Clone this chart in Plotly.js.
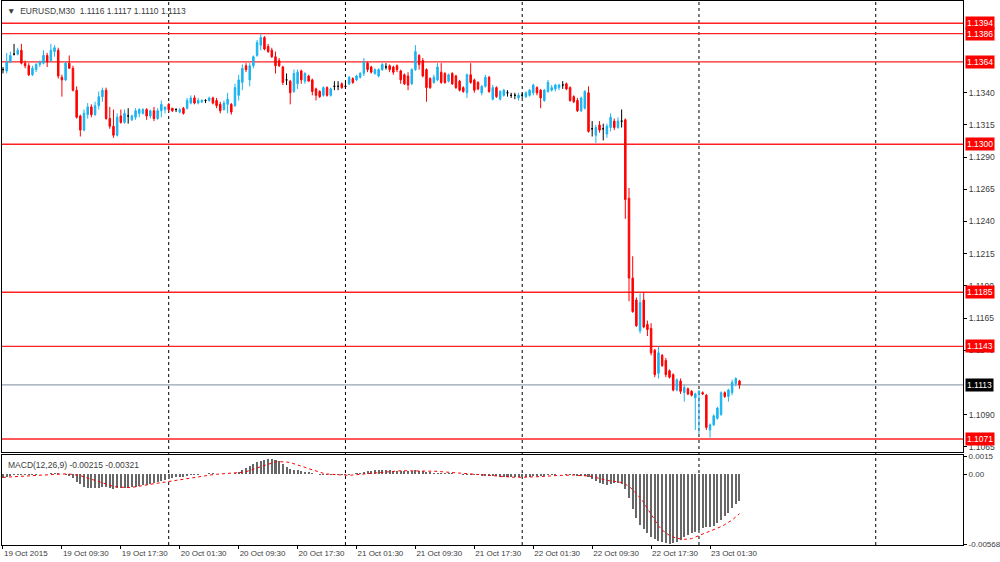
<!DOCTYPE html>
<html><head><meta charset="utf-8">
<script src="https://cdn.plot.ly/plotly-3.0.1.min.js"></script>
<style>html,body{margin:0;padding:0;background:#fff}#chart{width:1000px;height:562px}</style>
</head><body><div id="chart"></div>
<script>
const symbol = 'EURUSD,M30';
const timeLabels = ['19 Oct 2015','19 Oct 09:30','19 Oct 17:30','20 Oct 01:30','20 Oct 09:30','20 Oct 17:30','21 Oct 01:30','21 Oct 09:30','21 Oct 17:30','22 Oct 01:30','22 Oct 09:30','22 Oct 17:30','23 Oct 01:30'];
const labelStep = 16;
const daySeparators = [45, 93, 141, 189, 237];

const open = [1.1358,1.1357,1.1364,1.1370,1.1370,1.1373,1.1363,1.1361,1.1354,1.1358,1.1362,1.1363,1.1369,1.1365,1.1372,1.1373,1.1352,1.1350,1.1363,1.1359,
1.1342,1.1322,1.1311,1.1323,1.1329,1.1323,1.1330,1.1337,1.1342,1.1320,1.1314,1.1307,1.1322,1.1317,1.1322,1.1319,1.1321,1.1324,1.1324,1.1327,
1.1322,1.1326,1.1320,1.1326,1.1327,1.1331,1.1328,1.1327,1.1325,1.1328,1.1328,1.1332,1.1336,1.1332,1.1333,1.1334,1.1334,1.1336,1.1334,1.1331,
1.1327,1.1331,1.1331,1.1330,1.1338,1.1348,1.1361,1.1350,1.1361,1.1369,1.1377,1.1383,1.1376,1.1373,1.1368,1.1365,1.1360,1.1350,1.1349,1.1341,
1.1347,1.1357,1.1349,1.1353,1.1350,1.1343,1.1341,1.1338,1.1344,1.1338,1.1345,1.1345,1.1347,1.1345,1.1347,1.1351,1.1350,1.1352,1.1355,1.1363,
1.1360,1.1355,1.1353,1.1358,1.1360,1.1361,1.1360,1.1361,1.1357,1.1354,1.1353,1.1347,1.1358,1.1369,1.1365,1.1358,1.1351,1.1348,1.1350,1.1356,
1.1355,1.1349,1.1355,1.1353,1.1349,1.1344,1.1340,1.1354,1.1350,1.1348,1.1340,1.1345,1.1352,1.1335,1.1344,1.1335,1.1338,1.1340,1.1338,1.1338,
1.1336,1.1338,1.1337,1.1338,1.1340,1.1344,1.1342,1.1334,1.1341,1.1342,1.1343,1.1344,1.1346,1.1347,1.1344,1.1337,1.1334,1.1326,1.1328,1.1340,
1.1312,1.1307,1.1315,1.1312,1.1308,1.1313,1.1318,1.1313,1.1318,1.1319,1.1258,1.1196,1.1179,1.1155,1.1179,1.1160,1.1157,1.1140,1.1122,1.1136,
1.1132,1.1124,1.1121,1.1109,1.1116,1.1107,1.1110,1.1108,1.1103,1.1106,1.1107,1.1105,1.1078,1.1082,1.1087,1.1090,1.1107,1.1104,1.1107,1.1114,
1.1116];
const high = [1.1360,1.1371,1.1372,1.1378,1.1375,1.1378,1.1365,1.1363,1.1361,1.1363,1.1365,1.1373,1.1371,1.1378,1.1377,1.1375,1.1354,1.1364,1.1369,1.1361,
1.1345,1.1323,1.1327,1.1332,1.1331,1.1333,1.1341,1.1344,1.1344,1.1329,1.1327,1.1324,1.1327,1.1327,1.1328,1.1323,1.1328,1.1328,1.1328,1.1328,
1.1327,1.1329,1.1328,1.1334,1.1329,1.1332,1.1328,1.1328,1.1328,1.1329,1.1336,1.1338,1.1338,1.1336,1.1335,1.1335,1.1337,1.1337,1.1336,1.1333,
1.1334,1.1340,1.1332,1.1347,1.1354,1.1362,1.1363,1.1363,1.1369,1.1381,1.1386,1.1384,1.1378,1.1375,1.1372,1.1367,1.1361,1.1355,1.1350,1.1358,
1.1358,1.1358,1.1356,1.1354,1.1351,1.1344,1.1342,1.1345,1.1345,1.1344,1.1349,1.1349,1.1348,1.1348,1.1353,1.1352,1.1354,1.1356,1.1367,1.1364,
1.1361,1.1359,1.1359,1.1363,1.1363,1.1362,1.1361,1.1362,1.1358,1.1355,1.1356,1.1359,1.1377,1.1370,1.1367,1.1359,1.1352,1.1354,1.1363,1.1363,
1.1356,1.1355,1.1356,1.1354,1.1350,1.1345,1.1355,1.1363,1.1351,1.1349,1.1346,1.1354,1.1353,1.1346,1.1345,1.1342,1.1343,1.1342,1.1340,1.1340,
1.1340,1.1340,1.1341,1.1343,1.1347,1.1345,1.1343,1.1343,1.1350,1.1346,1.1347,1.1347,1.1349,1.1348,1.1345,1.1338,1.1336,1.1337,1.1342,1.1345,
1.1318,1.1315,1.1318,1.1316,1.1316,1.1324,1.1320,1.1321,1.1327,1.1320,1.1266,1.1213,1.1181,1.1184,1.1185,1.1163,1.1161,1.1141,1.1143,1.1137,
1.1134,1.1125,1.1122,1.1118,1.1118,1.1113,1.1111,1.1109,1.1107,1.1109,1.1108,1.1106,1.1083,1.1090,1.1096,1.1108,1.1108,1.1110,1.1117,1.1119,
1.1117];
const low = [1.1355,1.1355,1.1363,1.1369,1.1369,1.1362,1.1359,1.1353,1.1353,1.1356,1.1360,1.1362,1.1360,1.1364,1.1368,1.1351,1.1337,1.1349,1.1359,1.1341,
1.1320,1.1306,1.1310,1.1320,1.1321,1.1322,1.1327,1.1333,1.1319,1.1312,1.1305,1.1306,1.1316,1.1316,1.1316,1.1318,1.1319,1.1321,1.1323,1.1319,
1.1320,1.1318,1.1319,1.1321,1.1324,1.1325,1.1325,1.1325,1.1324,1.1323,1.1327,1.1331,1.1331,1.1331,1.1332,1.1332,1.1333,1.1331,1.1328,1.1324,
1.1326,1.1324,1.1323,1.1329,1.1334,1.1342,1.1356,1.1345,1.1359,1.1368,1.1373,1.1373,1.1371,1.1367,1.1355,1.1360,1.1346,1.1346,1.1331,1.1340,
1.1343,1.1347,1.1347,1.1349,1.1338,1.1334,1.1336,1.1337,1.1337,1.1337,1.1342,1.1342,1.1343,1.1343,1.1346,1.1347,1.1349,1.1351,1.1353,1.1356,
1.1355,1.1354,1.1352,1.1357,1.1358,1.1356,1.1354,1.1356,1.1347,1.1346,1.1342,1.1346,1.1357,1.1358,1.1352,1.1333,1.1343,1.1347,1.1349,1.1347,
1.1347,1.1348,1.1346,1.1343,1.1341,1.1340,1.1336,1.1347,1.1340,1.1342,1.1338,1.1344,1.1340,1.1334,1.1336,1.1334,1.1337,1.1337,1.1336,1.1335,
1.1334,1.1336,1.1336,1.1337,1.1338,1.1338,1.1328,1.1333,1.1340,1.1341,1.1341,1.1342,1.1343,1.1342,1.1333,1.1332,1.1325,1.1325,1.1327,1.1309,
1.1306,1.1301,1.1309,1.1303,1.1305,1.1310,1.1311,1.1312,1.1313,1.1242,1.1178,1.1169,1.1158,1.1153,1.1157,1.1151,1.1136,1.1119,1.1118,1.1127,
1.1119,1.1118,1.1108,1.1108,1.1106,1.1100,1.1105,1.1104,1.1078,1.1075,1.1105,1.1078,1.1072,1.1081,1.1086,1.1089,1.1103,1.1100,1.1105,1.1112,
1.1110];
const close = [1.1358,1.1364,1.1369,1.1370,1.1373,1.1363,1.1361,1.1354,1.1359,1.1362,1.1364,1.1369,1.1364,1.1373,1.1375,1.1353,1.1350,1.1363,1.1359,1.1342,
1.1321,1.1311,1.1324,1.1329,1.1323,1.1330,1.1337,1.1342,1.1320,1.1314,1.1307,1.1321,1.1317,1.1324,1.1322,1.1322,1.1326,1.1327,1.1327,1.1322,
1.1326,1.1320,1.1326,1.1331,1.1329,1.1327,1.1326,1.1327,1.1327,1.1324,1.1334,1.1336,1.1332,1.1334,1.1334,1.1334,1.1336,1.1332,1.1330,1.1326,
1.1332,1.1335,1.1325,1.1344,1.1350,1.1359,1.1358,1.1361,1.1368,1.1379,1.1383,1.1374,1.1372,1.1368,1.1361,1.1361,1.1348,1.1350,1.1340,1.1355,
1.1356,1.1350,1.1355,1.1349,1.1341,1.1338,1.1337,1.1344,1.1338,1.1343,1.1345,1.1345,1.1344,1.1345,1.1352,1.1348,1.1353,1.1355,1.1364,1.1358,
1.1356,1.1358,1.1358,1.1362,1.1360,1.1358,1.1356,1.1358,1.1350,1.1347,1.1346,1.1358,1.1372,1.1362,1.1353,1.1344,1.1344,1.1352,1.1360,1.1348,
1.1348,1.1354,1.1347,1.1344,1.1342,1.1341,1.1354,1.1348,1.1342,1.1343,1.1345,1.1352,1.1341,1.1344,1.1337,1.1341,1.1342,1.1340,1.1338,1.1338,
1.1338,1.1338,1.1340,1.1342,1.1346,1.1340,1.1336,1.1342,1.1348,1.1344,1.1346,1.1346,1.1346,1.1343,1.1334,1.1333,1.1326,1.1336,1.1341,1.1310,
1.1312,1.1313,1.1311,1.1312,1.1314,1.1321,1.1313,1.1318,1.1318,1.1257,1.1196,1.1170,1.1159,1.1177,1.1158,1.1156,1.1138,1.1121,1.1138,1.1128,
1.1121,1.1119,1.1109,1.1117,1.1108,1.1111,1.1106,1.1105,1.1106,1.1108,1.1106,1.1080,1.1082,1.1089,1.1095,1.1107,1.1104,1.1109,1.1115,1.1118,
1.1113];

const macdMain = [-0.00032,-0.00024,-0.00013,-0.00008,-0.00005,-0.00005,-0.00008,-0.00008,-0.00005,-0.00002,0.00001,0.00003,0.00006,0.00009,0.00011,0.00009,0.00003,-0.00002,-0.00013,-0.00029,
-0.00059,-0.00081,-0.00100,-0.00108,-0.00114,-0.00114,-0.00111,-0.00105,-0.00105,-0.00111,-0.00116,-0.00114,-0.00111,-0.00108,-0.00108,-0.00105,-0.00100,-0.00095,-0.00089,-0.00084,
-0.00076,-0.00070,-0.00062,-0.00051,-0.00046,-0.00038,-0.00029,-0.00024,-0.00021,-0.00018,-0.00013,-0.00008,-0.00005,-0.00002,0.00001,0.00006,0.00009,0.00009,0.00006,0.00003,
0.00003,0.00006,0.00006,0.00014,0.00022,0.00036,0.00052,0.00066,0.00082,0.00098,0.00112,0.00120,0.00123,0.00123,0.00117,0.00107,0.00085,0.00058,0.00041,0.00039,
0.00033,0.00028,0.00022,0.00017,0.00009,0.00001,-0.00002,-0.00002,-0.00005,-0.00005,-0.00008,-0.00008,-0.00008,-0.00005,-0.00002,0.00003,0.00009,0.00014,0.00022,0.00028,
0.00030,0.00033,0.00033,0.00033,0.00033,0.00033,0.00030,0.00030,0.00028,0.00028,0.00025,0.00028,0.00033,0.00030,0.00025,0.00020,0.00017,0.00014,0.00014,0.00014,
0.00011,0.00009,0.00009,0.00006,0.00001,-0.00002,-0.00002,-0.00002,-0.00005,-0.00008,-0.00010,-0.00010,-0.00010,-0.00013,-0.00016,-0.00018,-0.00018,-0.00021,-0.00024,-0.00024,
-0.00024,-0.00021,-0.00018,-0.00018,-0.00016,-0.00013,-0.00013,-0.00010,-0.00008,-0.00005,-0.00002,0.00001,0.00001,-0.00002,-0.00005,-0.00008,-0.00013,-0.00013,-0.00010,-0.00024,
-0.00040,-0.00057,-0.00067,-0.00078,-0.00084,-0.00078,-0.00073,-0.00073,-0.00076,-0.00122,-0.00195,-0.00285,-0.00358,-0.00413,-0.00449,-0.00481,-0.00508,-0.00530,-0.00540,-0.00552,
-0.00562,-0.00568,-0.00560,-0.00548,-0.00535,-0.00510,-0.00494,-0.00481,-0.00467,-0.00454,-0.00440,-0.00432,-0.00432,-0.00421,-0.00399,-0.00372,-0.00339,-0.00312,-0.00277,-0.00242,
-0.00215];
const macdSignal = [-0.00024,-0.00023,-0.00022,-0.00020,-0.00018,-0.00016,-0.00014,-0.00012,-0.00010,-0.00008,-0.00005,-0.00004,-0.00002,0.00000,0.00002,0.00003,0.00004,0.00004,0.00003,0.00000,
-0.00003,-0.00010,-0.00020,-0.00030,-0.00040,-0.00050,-0.00060,-0.00069,-0.00078,-0.00088,-0.00098,-0.00103,-0.00106,-0.00107,-0.00107,-0.00106,-0.00100,-0.00095,-0.00090,-0.00086,
-0.00081,-0.00076,-0.00072,-0.00067,-0.00062,-0.00057,-0.00052,-0.00047,-0.00043,-0.00038,-0.00033,-0.00028,-0.00023,-0.00018,-0.00013,-0.00009,-0.00005,-0.00002,0.00001,0.00003,
0.00004,0.00005,0.00006,0.00008,0.00010,0.00017,0.00022,0.00030,0.00041,0.00052,0.00063,0.00074,0.00085,0.00093,0.00101,0.00104,0.00104,0.00101,0.00096,0.00088,
0.00080,0.00069,0.00058,0.00047,0.00036,0.00025,0.00017,0.00009,0.00003,0.00001,-0.00002,-0.00005,-0.00008,-0.00008,-0.00008,-0.00005,-0.00002,0.00001,0.00003,0.00009,
0.00011,0.00014,0.00017,0.00020,0.00022,0.00025,0.00028,0.00028,0.00030,0.00030,0.00030,0.00030,0.00030,0.00030,0.00030,0.00028,0.00028,0.00025,0.00025,0.00022,
0.00020,0.00020,0.00017,0.00014,0.00011,0.00009,0.00009,0.00006,0.00003,0.00001,-0.00002,-0.00005,-0.00008,-0.00010,-0.00013,-0.00016,-0.00018,-0.00021,-0.00024,-0.00024,
-0.00024,-0.00024,-0.00024,-0.00021,-0.00021,-0.00018,-0.00018,-0.00016,-0.00013,-0.00013,-0.00010,-0.00008,-0.00008,-0.00005,-0.00005,-0.00005,-0.00008,-0.00008,-0.00010,-0.00013,
-0.00018,-0.00027,-0.00035,-0.00043,-0.00048,-0.00054,-0.00059,-0.00062,-0.00065,-0.00080,-0.00098,-0.00125,-0.00155,-0.00190,-0.00230,-0.00280,-0.00331,-0.00380,-0.00420,-0.00454,
-0.00480,-0.00498,-0.00512,-0.00521,-0.00527,-0.00530,-0.00529,-0.00524,-0.00512,-0.00498,-0.00485,-0.00474,-0.00463,-0.00452,-0.00440,-0.00426,-0.00410,-0.00392,-0.00372,-0.00347,
-0.00321];

const levels = [1.1394, 1.1386, 1.1364, 1.1300, 1.1185, 1.1143, 1.1071];
const bidPrice = 1.1113;
const priceTicks = [1.1065, 1.1090, 1.1140, 1.1165, 1.1190, 1.1215, 1.1240, 1.1265, 1.1290, 1.1315, 1.1340];
const macdTicks = [0.0015, 0, -0.00568];
const macdTickText = ['0.0015', '0.00', '-0.00568'];

// ---------------- build ----------------
const idx = open.map((_, i) => i);
function pick(cond) {
  const r = {x: [], o: [], h: [], l: [], c: []};
  idx.forEach(i => { if (cond(i)) { r.x.push(i); r.o.push(open[i]); r.h.push(high[i]); r.l.push(low[i]); r.c.push(close[i]); } });
  return r;
}
const BULL = '#1cb3f0', BEAR = '#ff0000', DOJI = '#000000';
function candle(set, color) {
  return {type: 'candlestick', x: set.x, open: set.o, high: set.h, low: set.l, close: set.c,
    xaxis: 'x', yaxis: 'y', whiskerwidth: 0, hoverinfo: 'skip', showlegend: false,
    increasing: {line: {color: color, width: 1}, fillcolor: color},
    decreasing: {line: {color: color, width: 1}, fillcolor: color}};
}
const bull = pick(i => close[i] > open[i]);
const bear = pick(i => close[i] < open[i]);
const doji = pick(i => close[i] === open[i]);

const traces = [
  candle(bull, BULL), candle(bear, BEAR), candle(doji, DOJI),
  {type: 'bar', x: idx, y: macdMain, xaxis: 'x2', yaxis: 'y2', width: 0.55,
   marker: {color: '#676767', line: {width: 0}}, hoverinfo: 'skip', showlegend: false},
  {type: 'scatter', mode: 'lines', x: idx, y: macdSignal, xaxis: 'x2', yaxis: 'y2',
   line: {color: '#ff0000', width: 1, dash: 'dot'}, hoverinfo: 'skip', showlegend: false}
];

const FONT = 'Liberation Sans, Arial, sans-serif';
const TXT = '#3c3c3c';
const xRange = [-0.27, 260.7];
const shapes = [];
daySeparators.forEach(d => shapes.push({type: 'line', xref: 'x', yref: 'paper', x0: d, x1: d, y0: 0, y1: 1,
  line: {color: '#000', width: 1, dash: 'dot'}, layer: 'below'}));
levels.forEach(v => shapes.push({type: 'line', xref: 'paper', yref: 'y', x0: 0, x1: 1, y0: v, y1: v,
  line: {color: '#ff2020', width: 1.3}, layer: 'below'}));
shapes.push({type: 'line', xref: 'paper', yref: 'y', x0: 0, x1: 1, y0: bidPrice, y1: bidPrice,
  line: {color: '#7a8ca0', width: 1}, layer: 'below'});

const annotations = [];
levels.forEach(v => annotations.push({xref: 'paper', yref: 'y', x: 1, y: v, xanchor: 'left', yanchor: 'middle', xshift: 2,
  text: v.toFixed(4), showarrow: false, bgcolor: '#ff0000', borderpad: 1, font: {family: FONT, size: 8.5, color: '#fff'}}));
annotations.push({xref: 'paper', yref: 'y', x: 1, y: bidPrice, xanchor: 'left', yanchor: 'middle', xshift: 2,
  text: bidPrice.toFixed(4), showarrow: false, bgcolor: '#000', borderpad: 1, font: {family: FONT, size: 8.5, color: '#fff'}});
const last = open.length - 1;
annotations.push({xref: 'paper', yref: 'paper', x: 0, y: 1, xanchor: 'left', yanchor: 'top', xshift: 3, yshift: -3,
  text: '▼  ' + symbol + '  ' + [open[last], high[last], low[last], close[last]].map(v => v.toFixed(4)).join(' '),
  showarrow: false, font: {family: FONT, size: 8.5, color: TXT}});
annotations.push({xref: 'paper', yref: 'paper', x: 0, y: 0.1654, xanchor: 'left', yanchor: 'top', xshift: 4, yshift: -3,
  text: 'MACD(12,26,9) ' + macdMain[last].toFixed(5) + ' ' + macdSignal[last].toFixed(5),
  showarrow: false, font: {family: FONT, size: 8.5, color: TXT}});

const layout = {
  width: 1000, height: 562,
  margin: {l: 2, r: 37, t: 1, b: 17, pad: 0},
  paper_bgcolor: '#fff', plot_bgcolor: '#fff',
  showlegend: false, boxgap: 0.42, bargap: 0,
  font: {family: FONT, size: 8, color: TXT},
  xaxis: {domain: [0, 1], anchor: 'y', range: xRange, showgrid: false, zeroline: false, showticklabels: false,
    ticks: '', showline: true, mirror: true, linecolor: '#000', linewidth: 1, rangeslider: {visible: false}, fixedrange: true},
  xaxis2: {domain: [0, 1], anchor: 'y2', matches: 'x', range: xRange, showgrid: false, zeroline: false,
    showline: true, mirror: true, linecolor: '#000', linewidth: 1,
    tickmode: 'array', tickvals: timeLabels.map((_, k) => k * labelStep), ticktext: timeLabels,
    ticks: 'outside', ticklen: 3, tickcolor: '#000', ticklabelposition: 'outside right', tickangle: 0,
    tickfont: {family: FONT, size: 8, color: TXT}, automargin: false},
  yaxis: {domain: [0.171, 1], anchor: 'x', side: 'right', range: [1.10609, 1.14113], showgrid: false, zeroline: false,
    showline: true, mirror: true, linecolor: '#000', linewidth: 1,
    tickmode: 'array', tickvals: priceTicks, ticktext: priceTicks.map(v => v.toFixed(4)),
    ticks: 'outside', ticklen: 3, tickcolor: '#000', tickfont: {family: FONT, size: 8.5, color: TXT}, automargin: false},
  yaxis2: {domain: [0, 0.1654], anchor: 'x2', side: 'right', range: [-0.00576, 0.00158], showgrid: false, zeroline: false,
    showline: true, mirror: true, linecolor: '#000', linewidth: 1,
    tickmode: 'array', tickvals: macdTicks, ticktext: macdTickText,
    ticks: 'outside', ticklen: 3, tickcolor: '#000', tickfont: {family: FONT, size: 8, color: TXT}, automargin: false},
  shapes: shapes, annotations: annotations
};
Plotly.newPlot('chart', traces, layout, {staticPlot: true, displayModeBar: false});
</script></body></html>
